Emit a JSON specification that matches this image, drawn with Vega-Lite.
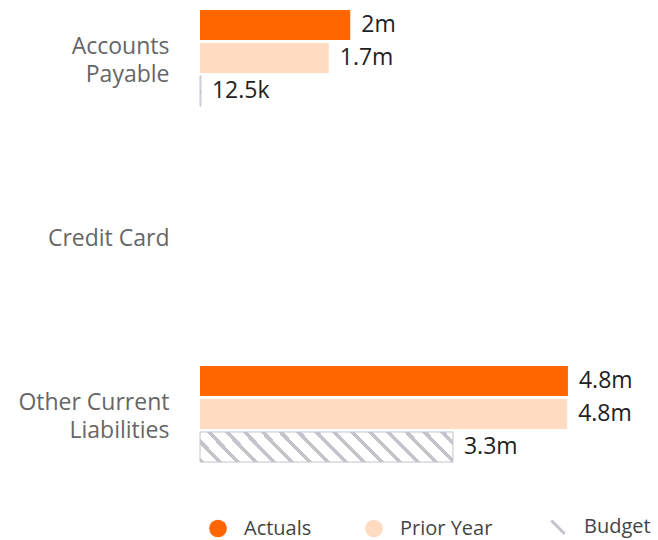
{
  "$schema": "https://vega.github.io/schema/vega-lite/v6.json",
  "width": 458,
  "height": 472,
  "autosize": {"type": "none"},
  "padding": {"left": 200, "top": 0, "right": 0, "bottom": 68},
  "background": "white",
  "config": {
    "view": {"stroke": null},
    "font": "Open Sans",
    "legend": {"layout": {"bottom": {"anchor": "middle"}}}
  },
  "data": {
    "values": [
      {"category": "Accounts Payable", "series": "Actuals", "value": 1960000, "label": "2m"},
      {"category": "Accounts Payable", "series": "Prior Year", "value": 1680000, "label": "1.7m"},
      {"category": "Accounts Payable", "series": "Budget", "value": 12500, "label": "12.5k"},
      {"category": "Other Current Liabilities", "series": "Actuals", "value": 4800000, "label": "4.8m"},
      {"category": "Other Current Liabilities", "series": "Prior Year", "value": 4790000, "label": "4.8m"},
      {"category": "Other Current Liabilities", "series": "Budget", "value": 3300000, "label": "3.3m"}
    ]
  },
  "encoding": {
    "y": {
      "field": "category",
      "type": "nominal",
      "scale": {
        "domain": ["Accounts Payable", "Credit Card", "Other Current Liabilities"],
        "paddingInner": 0.46,
        "paddingOuter": 0.056
      },
      "axis": {
        "title": null,
        "domain": false,
        "ticks": false,
        "labelPadding": 31,
        "labelFontSize": 23,
        "labelColor": "#666666",
        "labelFont": "Open Sans",
        "labelLineHeight": 28,
        "labelOffset": {"condition": {"test": "datum.value === 'Credit Card'", "value": 3}, "value": -11},
        "labelExpr": "datum.label == 'Accounts Payable' ? ['Accounts', 'Payable'] : datum.label == 'Other Current Liabilities' ? ['Other Current', 'Liabilities'] : datum.label"
      }
    },
    "yOffset": {
      "field": "series",
      "type": "nominal",
      "scale": {"domain": ["Actuals", "Prior Year", "Budget"], "paddingInner": 0.09, "paddingOuter": 0}
    },
    "x": {
      "field": "value",
      "type": "quantitative",
      "scale": {"domain": [0, 5975000], "nice": false},
      "axis": null
    }
  },
  "layer": [
    {
      "mark": {"type": "bar"},
      "encoding": {
        "color": {
          "field": "series",
          "type": "nominal",
          "scale": {
            "domain": ["Actuals", "Prior Year", "Budget"],
            "range": ["#FF6600", "#FFDBC2", "#C4C4CC"]
          },
          "legend": {
            "title": null,
            "orient": "bottom",
            "direction": "horizontal",
            "offset": 45,
            "symbolType": "circle",
            "symbolSize": 314,
            "labelFontSize": 20,
            "labelColor": "#444444",
            "labelFont": "Open Sans",
            "labelOffset": 16,
            "columnPadding": 52,
            "encode": {
              "symbols": {
                "update": {
                  "shape": {"signal": "datum.value === 'Budget' ? 'M-0.75,-0.75L0.75,0.75' : 'circle'"},
                  "stroke": {"signal": "datum.value === 'Budget' ? '#C4C4CC' : null"},
                  "strokeWidth": {"signal": "datum.value === 'Budget' ? 3 : 0"}
                }
              }
            }
          }
        }
      }
    },
    {
      "transform": [{"filter": "datum.series === 'Budget'"}],
      "mark": {
        "type": "bar",
        "stroke": "#C4C4CC",
        "strokeWidth": 1,
        "fill": {
          "gradient": "linear",
          "x1": 0, "y1": 1, "x2": 1.1031, "y2": 0.8692,
          "stops": [
            {"offset": 0, "color": "#C4C4CC"}, {"offset": 0.0177, "color": "#C4C4CC"}, {"offset": 0.0177, "color": "#FFFFFF"}, {"offset": 0.0636, "color": "#FFFFFF"},
            {"offset": 0.0636, "color": "#C4C4CC"}, {"offset": 0.0813, "color": "#C4C4CC"}, {"offset": 0.0813, "color": "#FFFFFF"}, {"offset": 0.1272, "color": "#FFFFFF"},
            {"offset": 0.1272, "color": "#C4C4CC"}, {"offset": 0.1449, "color": "#C4C4CC"}, {"offset": 0.1449, "color": "#FFFFFF"}, {"offset": 0.1908, "color": "#FFFFFF"},
            {"offset": 0.1908, "color": "#C4C4CC"}, {"offset": 0.2085, "color": "#C4C4CC"}, {"offset": 0.2085, "color": "#FFFFFF"}, {"offset": 0.2544, "color": "#FFFFFF"},
            {"offset": 0.2544, "color": "#C4C4CC"}, {"offset": 0.2721, "color": "#C4C4CC"}, {"offset": 0.2721, "color": "#FFFFFF"}, {"offset": 0.3180, "color": "#FFFFFF"},
            {"offset": 0.3180, "color": "#C4C4CC"}, {"offset": 0.3357, "color": "#C4C4CC"}, {"offset": 0.3357, "color": "#FFFFFF"}, {"offset": 0.3816, "color": "#FFFFFF"},
            {"offset": 0.3816, "color": "#C4C4CC"}, {"offset": 0.3993, "color": "#C4C4CC"}, {"offset": 0.3993, "color": "#FFFFFF"}, {"offset": 0.4452, "color": "#FFFFFF"},
            {"offset": 0.4452, "color": "#C4C4CC"}, {"offset": 0.4629, "color": "#C4C4CC"}, {"offset": 0.4629, "color": "#FFFFFF"}, {"offset": 0.5088, "color": "#FFFFFF"},
            {"offset": 0.5088, "color": "#C4C4CC"}, {"offset": 0.5265, "color": "#C4C4CC"}, {"offset": 0.5265, "color": "#FFFFFF"}, {"offset": 0.5724, "color": "#FFFFFF"},
            {"offset": 0.5724, "color": "#C4C4CC"}, {"offset": 0.5901, "color": "#C4C4CC"}, {"offset": 0.5901, "color": "#FFFFFF"}, {"offset": 0.6360, "color": "#FFFFFF"},
            {"offset": 0.6360, "color": "#C4C4CC"}, {"offset": 0.6537, "color": "#C4C4CC"}, {"offset": 0.6537, "color": "#FFFFFF"}, {"offset": 0.6996, "color": "#FFFFFF"},
            {"offset": 0.6996, "color": "#C4C4CC"}, {"offset": 0.7173, "color": "#C4C4CC"}, {"offset": 0.7173, "color": "#FFFFFF"}, {"offset": 0.7632, "color": "#FFFFFF"},
            {"offset": 0.7632, "color": "#C4C4CC"}, {"offset": 0.7809, "color": "#C4C4CC"}, {"offset": 0.7809, "color": "#FFFFFF"}, {"offset": 0.8269, "color": "#FFFFFF"},
            {"offset": 0.8269, "color": "#C4C4CC"}, {"offset": 0.8446, "color": "#C4C4CC"}, {"offset": 0.8446, "color": "#FFFFFF"}, {"offset": 0.8905, "color": "#FFFFFF"},
            {"offset": 0.8905, "color": "#C4C4CC"}, {"offset": 0.9082, "color": "#C4C4CC"}, {"offset": 0.9082, "color": "#FFFFFF"}, {"offset": 0.9541, "color": "#FFFFFF"},
            {"offset": 0.9541, "color": "#C4C4CC"}, {"offset": 0.9718, "color": "#C4C4CC"}, {"offset": 0.9718, "color": "#FFFFFF"}, {"offset": 1, "color": "#FFFFFF"}
          ]
        }
      }
    },
    {
      "mark": {
        "type": "text",
        "align": "left",
        "baseline": "middle",
        "dx": 11,
        "fontSize": 23,
        "font": "Open Sans",
        "color": "#222222"
      },
      "encoding": {
        "text": {"field": "label", "type": "nominal"}
      }
    }
  ]
}
